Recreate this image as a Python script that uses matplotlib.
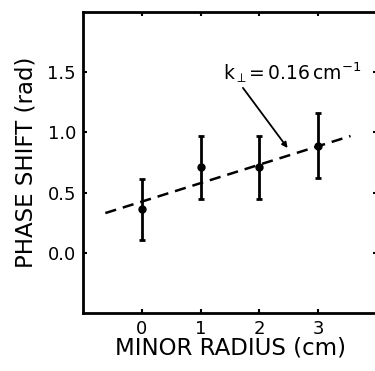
import matplotlib
matplotlib.use('Agg')
import matplotlib.pyplot as plt

# measured phase shift vs minor radius
radius = [0, 1, 2, 3]
phase = [0.36, 0.71, 0.71, 0.89]
phase_err = [0.25, 0.26, 0.26, 0.27]

# dashed fit line endpoints
fit_x = [-0.62, 3.55]
fit_y = [0.33, 0.97]

yticks = [0.0, 0.5, 1.0, 1.5]
ytick_labels = ['0.0', '0.5', '1.0', '1.5']
xticks = [0, 1, 2, 3]

plt.rcParams['font.family'] = ['DejaVu Sans']

fig = plt.figure(figsize=(3.75, 3.71), dpi=100)
ax = fig.add_axes([83 / 375, 1 - 313 / 371, (377 - 83) / 375, (313 - 12) / 371])

ax.plot(fit_x, fit_y, color='black', lw=1.8, dashes=(4.5, 2.8))
ax.errorbar(radius, phase, yerr=phase_err, fmt='o', color='black', ms=5,
            elinewidth=2, capsize=2.5, capthick=2)

ax.text(1.38, 1.50, r'k$_{\perp}$=$\,$0.16$\,$cm$^{-1}$', fontsize=13.5,
        va='center', ha='left')
ax.annotate('', xy=(2.48, 0.87), xytext=(1.72, 1.37),
            arrowprops=dict(arrowstyle='-|>', color='black', lw=1.3,
                            mutation_scale=8, shrinkA=0, shrinkB=0))

ax.set_xlim(-1, 4)
ax.set_ylim(-0.5, 2.0)
ax.set_xticks(xticks)
ax.set_yticks(yticks)
ax.set_yticklabels(ytick_labels)
ax.tick_params(direction='in', length=3, width=1.5, labelsize=13,
               top=True, right=True, pad=5)

for s in ax.spines.values():
    s.set_linewidth(2)

ax.set_xlabel('MINOR RADIUS (cm)', fontsize=16.5, labelpad=-1)
ax.set_ylabel('PHASE SHIFT (rad)', fontsize=16.5, labelpad=7)

fig.savefig('out.png', dpi=100)
